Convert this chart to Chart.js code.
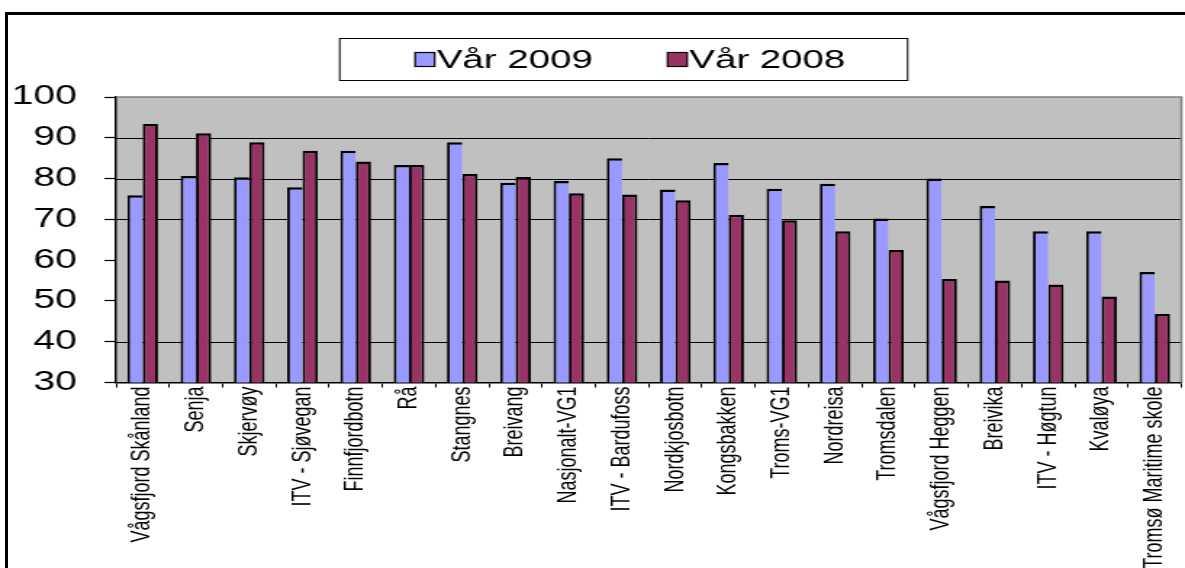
<!DOCTYPE html>
<html><head><meta charset="utf-8">
<script src="https://cdn.jsdelivr.net/npm/chart.js@4"></script>
<style>
html,body{margin:0;padding:0;background:#fff;overflow:hidden}
#wrap{position:relative;width:1185px;height:568px}
#c{position:absolute;left:0;top:0}
#frame{position:absolute;left:5px;top:12px;width:1300px;height:700px;border:3px solid #000;pointer-events:none}
</style></head><body>
<div id="wrap"><canvas id="c" width="817" height="568" style="width:1185px;height:568px"></canvas><div id="frame"></div></div>
<script>
const categories = ["Vågsfjord Skånland","Senja","Skjervøy","ITV - Sjøvegan","Finnfjordbotn","Rå","Stangnes","Breivang","Nasjonalt-VG1","ITV - Bardufoss","Nordkjosbotn","Kongsbakken","Troms-VG1","Nordreisa","Tromsdalen","Vågsfjord Heggen","Breivika","ITV - Høgtun","Kvaløya","Tromsø Maritime skole"];
const var2009 = [75.9,80.6,80.3,77.9,86.8,83.3,88.9,79.0,79.4,85.0,77.3,83.8,77.5,78.7,70.2,80.0,73.3,67.1,67.1,57.1];
const var2008 = [93.4,91.1,88.9,86.8,84.2,83.3,81.1,80.4,76.4,76.1,74.7,71.1,69.8,67.1,62.5,55.4,55.0,54.0,51.1,46.8];
const seriesNames = ["Vår 2009","Vår 2008"];
const seriesColors = ["#9999FF","#993366"];
const yMin = 30, yMax = 100, yStep = 10;
const gridValues = [40,70,80,90];

const FONT = '"Liberation Sans", Arial, sans-serif';

const bgPlugin = {
  id:'bg',
  beforeDraw(chart){
    const {ctx, chartArea:a} = chart;
    ctx.save();
    ctx.fillStyle='#fff'; ctx.fillRect(0,0,chart.width,chart.height);
    ctx.fillStyle='#C0C0C0'; ctx.fillRect(a.left,a.top,a.right-a.left,a.bottom-a.top);
    ctx.restore();
  },
  beforeDatasetsDraw(chart){
    const {ctx, chartArea:a, scales:{y}} = chart;
    ctx.save();
    ctx.strokeStyle='#000'; ctx.lineWidth=1;
    y.ticks.forEach(t=>{
      if(!gridValues.includes(t.value)) return;
      const py = Math.round(y.getPixelForValue(t.value))+0.5;
      ctx.beginPath(); ctx.moveTo(a.left,py); ctx.lineTo(a.right,py); ctx.stroke();
    });
    ctx.restore();
  },
  afterDatasetsDraw(chart){
    const {ctx, chartArea:a} = chart;
    ctx.save();
    ctx.strokeStyle='#808080'; ctx.lineWidth=1.6;
    ctx.beginPath(); ctx.moveTo(a.left,a.top); ctx.lineTo(a.right,a.top); ctx.lineTo(a.right,a.bottom); ctx.stroke();
    ctx.restore();
  }
};

const legendPlugin = {
  id:'legendBox',
  afterDraw(chart){
    const ctx = chart.ctx;
    const cx = 430, top = 38, w = 391.5, h = 42;
    ctx.save();
    ctx.fillStyle='#fff'; ctx.fillRect(cx-w/2, top, w, h);
    ctx.strokeStyle='#000'; ctx.lineWidth=1; ctx.strokeRect(cx-w/2, top+0.5, w, h);
    ctx.font = '26.5px ' + FONT;
    const ds = chart.data.datasets;
    const box = 13.5, gap = 1.5, spacing = 51.5;
    const widths = ds.map(d=>ctx.measureText(d.label).width);
    const total = widths.reduce((s,v)=>s+v,0) + ds.length*(box+gap) + spacing*(ds.length-1);
    let x = 434.5 - total/2;
    const y = top + h/2 + 0.5;
    ds.forEach((d,i)=>{
      ctx.fillStyle = d.backgroundColor;
      ctx.fillRect(x, y-7, box, 14);
      ctx.strokeStyle='#000'; ctx.lineWidth=1.2;
      ctx.strokeRect(x, y-7, box, 14);
      ctx.fillStyle='#000'; ctx.textBaseline='middle'; ctx.textAlign='left';
      ctx.fillText(d.label, x+box+gap, y+1);
      x += box+gap+widths[i]+spacing;
    });
    ctx.restore();
  }
};

new Chart(document.getElementById('c'), {
  type:'bar',
  data:{
    labels: categories,
    datasets:[
      {label:seriesNames[0], data:var2009, backgroundColor:seriesColors[0], borderColor:'#000',
       borderWidth:{top:2.5,left:1.9,right:0,bottom:0}, borderSkipped:false},
      {label:seriesNames[1], data:var2008, backgroundColor:seriesColors[1], borderColor:'#000',
       borderWidth:{top:2.5,left:1.9,right:1.9,bottom:0}, borderSkipped:false}
    ]
  },
  options:{
    responsive:false, animation:false, devicePixelRatio:1,
    layout:{padding:{top:97,right:2.5,left:0,bottom:0}},
    datasets:{bar:{categoryPercentage:0.575, barPercentage:1.0}},
    plugins:{legend:{display:false}, tooltip:{enabled:false}, title:{display:false}},
    scales:{
      x:{
        offset:true,
        grid:{display:true, drawOnChartArea:false, offset:true, tickLength:5, tickColor:'#000', color:'#000'},
        border:{color:'#000', width:1.5},
        ticks:{autoSkip:false, maxRotation:90, minRotation:90, padding:-1, color:'#000', font:{family:FONT, size:18}},
        afterFit(s){ s.height = 568 - 382.5; }
      },
      y:{
        min:yMin, max:yMax,
        ticks:{stepSize:yStep, color:'#000', padding:19, font:{family:FONT, size:27}},
        grid:{drawOnChartArea:false, color:'#000', tickColor:'#000', tickLength:8, tickWidth:1.2},
        border:{color:'#000', width:1.5},
        afterFit(s){ s.width = 80; }
      }
    }
  },
  plugins:[bgPlugin, legendPlugin]
});
</script>
</body></html>
